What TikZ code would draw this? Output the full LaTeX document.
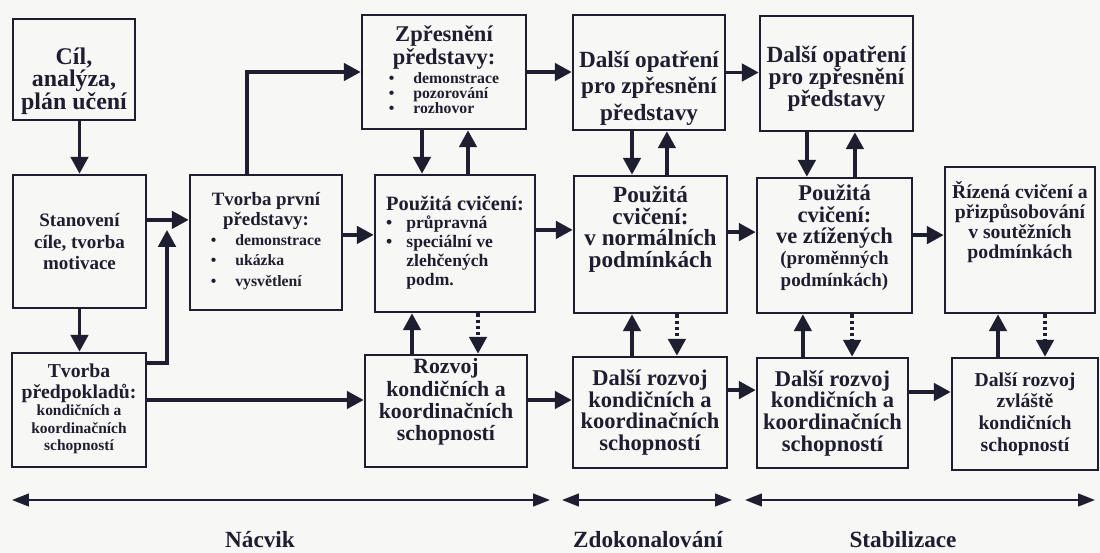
\documentclass[tikz,border=0pt]{standalone}
\usepackage{fontspec}
\setmainfont{Liberation Serif}
\usetikzlibrary{arrows.meta}

\definecolor{ink}{RGB}{30,30,48}
\definecolor{paper}{RGB}{247,247,245}
\newcommand{\fsz}[2]{\fontsize{#1}{#2}\selectfont}

\tikzset{
  box/.style={draw=ink, line width=1.9pt, inner sep=1pt, align=center, text=ink},
  arr/.style={draw=ink, line width=2.3pt, -{Triangle[length=12pt,width=12.5pt]}},
  darr/.style={arr, dash pattern=on 2.4pt off 2pt},
  phasearr/.style={draw=ink, line width=1.5pt, {Triangle[length=12pt,width=9pt]}-{Triangle[length=12pt,width=9pt]}},
  phase/.style={text=ink, font=\bfseries\fsz{16.5}{18}}
}

\begin{document}
\begin{tikzpicture}[x=0.025cm, y=-0.025cm]
\fill[paper] (0,0) rectangle (1100,553);
\useasboundingbox (0,0) rectangle (1100,553);

% first column
\node[box, minimum width=3.05cm, minimum height=2.525cm, text height=60pt, font=\bfseries\fsz{17}{15.8}] (goal) at (74,69.5) {Cíl,\\ analýza,\\ plán učení};
\node[box, minimum width=3.325cm, minimum height=3.325cm, font=\bfseries\fsz{13.5}{15}] (motiv) at (79.5,241.5) {Stanovení\\ cíle, tvorba\\ motivace};
\node[box, minimum width=3.35cm, minimum height=2.85cm, font=\bfseries\fsz{14}{14.5}] (prereq) at (79,410)
  {Tvorba\\ předpokladů:\\ {\fsz{11}{12.3}\begin{tabular}{@{}c@{}}kondičních a\\ koordinačních\\ schopností\end{tabular}}};

% Nacvik
\node[box, minimum width=3.8cm, minimum height=3.375cm, font=\bfseries\fsz{13.4}{14.2}] (firstimg) at (266,242.5)
  {Tvorba první\\ představy:\\ {\fsz{11.2}{14.6}\begin{tabular}{@{}l@{\hspace{1.2em}}l@{}}\textbullet & demonstrace\\ \textbullet & ukázka\\ \textbullet & vysvětlení\end{tabular}}};
\node[box, minimum width=4.1cm, minimum height=2.85cm, font=\bfseries\fsz{16}{16.6}] (refine) at (444,72)
  {Zpřesnění\\ představy:\\[1pt] {\fsz{11.2}{10.2}\begin{tabular}{@{}l@{\hspace{1.2em}}l@{}}\textbullet & demonstrace\\ \textbullet & pozorování\\ \textbullet & rozhovor\end{tabular}}};
\node[box, align=left, minimum width=4cm, minimum height=3.425cm, font=\bfseries\fsz{14.5}{16}] (drill) at (455,243.5)
  {Použitá cvičení:\\[2pt] {\fsz{12.5}{13.5}\begin{tabular}{@{}l@{\hspace{0.8em}}l@{}}\textbullet & průpravná\\ \textbullet & speciální ve\\ & zlehčených\\ & podm.\end{tabular}}};
\node[box, minimum width=4.05cm, minimum height=2.8cm, text depth=16pt, font=\bfseries\fsz{15.5}{15.9}] (develop) at (446,411) {Rozvoj\\ kondičních a\\ koordinačních\\ schopností};

% Zdokonalovani
\node[box, minimum width=3.8cm, minimum height=2.875cm, text height=72pt, font=\bfseries\fsz{16.5}{19}] (refine2) at (649,72.5) {Další opatření\\ pro zpřesnění\\ představy};
\node[box, minimum width=3.825cm, minimum height=3.425cm, text depth=25pt, font=\bfseries\fsz{16.5}{15.4}] (drillnorm) at (650.5,244.5) {Použitá\\ cvičení:\\ v normálních\\ podmínkách};
\node[box, minimum width=3.85cm, minimum height=2.775cm, font=\bfseries\fsz{16}{15.4}] (develop2) at (650,412.5) {Další rozvoj\\ kondičních a\\ koordinačních\\ schopností};

% Stabilizace
\node[box, minimum width=3.825cm, minimum height=2.875cm, text height=50pt, font=\bfseries\fsz{16.5}{15.6}] (refine3) at (836.5,73.5) {Další opatření\\ pro zpřesnění\\ představy};
\node[box, minimum width=3.875cm, minimum height=3.375cm, text depth=14pt, font=\bfseries\fsz{16}{15.2}] (drillhard) at (834.5,245.5)
  {Použitá\\ cvičení:\\ ve ztížených\\ {\fsz{13.5}{14}(proměnných}\\ {\fsz{13.5}{14}podmínkách)}};
\node[box, minimum width=3.775cm, minimum height=2.75cm, font=\bfseries\fsz{16}{15.4}] (develop3) at (832.5,413) {Další rozvoj\\ kondičních a\\ koordinačních\\ schopností};
\node[box, minimum width=3.75cm, minimum height=3.65cm, text depth=29pt, font=\bfseries\fsz{14}{14.2}] (compete) at (1020,240) {Řízená cvičení a\\ přizpůsobování\\ v soutěžních\\ podmínkách};
\node[box, minimum width=3.65cm, minimum height=2.8cm, font=\bfseries\fsz{14}{15.5}] (develop4) at (1025,414) {Další rozvoj\\ zvláště\\ kondičních\\ schopností};

% connectors, first column
\draw[arr] (motiv.north |- goal.south) -- (motiv.north);
\draw[arr] (motiv.south) -- (motiv.south |- prereq.north);
\draw[arr] ([yshift=0.54cm]motiv.east) -- ([yshift=0.54cm]motiv.east -| firstimg.west);
\coordinate (join) at (167,230);
\draw[arr] ([yshift=1.175cm]prereq.east) -| (join);
\draw[arr] ([yshift=0.25cm]prereq.east) -- ([yshift=0.25cm]prereq.east -| develop.west);
\draw[arr] ([xshift=-0.475cm]firstimg.north) |- (refine.west);
\draw[arr] ([yshift=0.19cm]firstimg.east) -- ([yshift=0.19cm]firstimg.east -| drill.west);

% rows to the right
\draw[arr] (refine.east) -- (refine.east -| refine2.west);
\draw[arr] (refine2.east) -- (refine2.east -| refine3.west);
\draw[arr] ([yshift=0.34cm]drill.east) -- ([yshift=0.34cm]drill.east -| drillnorm.west);
\draw[arr] ([yshift=0.31cm]drillnorm.east) -- ([yshift=0.31cm]drillnorm.east -| drillhard.west);
\draw[arr] ([yshift=0.26cm]drillhard.east) -- ([yshift=0.26cm]drillhard.east -| compete.west);
\draw[arr] ([yshift=0.275cm]develop.east) -- ([yshift=0.275cm]develop.east -| develop2.west);
\draw[arr] ([yshift=0.56cm]develop2.east) -- ([yshift=0.56cm]develop2.east -| develop3.west);
\draw[arr] ([yshift=0.525cm]develop3.east) -- ([yshift=0.525cm]develop3.east -| develop4.west);

% up and down between rows
\draw[arr] ([xshift=-0.55cm]refine.south) -- ([xshift=-0.55cm]refine.south |- drill.north);
\draw[arr] ([xshift=0.325cm]drill.north) -- ([xshift=0.325cm]drill.north |- refine.south);
\draw[arr] ([xshift=-0.425cm]refine2.south) -- ([xshift=-0.425cm]refine2.south |- drillnorm.north);
\draw[arr] ([xshift=0.41cm]drillnorm.north) -- ([xshift=0.41cm]drillnorm.north |- refine2.south);
\draw[arr] ([xshift=-0.74cm]refine3.south) -- ([xshift=-0.74cm]refine3.south |- drillhard.north);
\draw[arr] ([xshift=0.51cm]drillhard.north) -- ([xshift=0.51cm]drillhard.north |- refine3.south);

\draw[arr] ([xshift=-0.85cm]develop.north) -- ([xshift=-0.85cm]develop.north |- drill.south);
\draw[darr] ([xshift=0.575cm]drill.south) -- ([xshift=0.575cm]drill.south |- develop.north);
\draw[arr] ([xshift=-0.45cm]develop2.north) -- ([xshift=-0.45cm]develop2.north |- drillnorm.south);
\draw[darr] ([xshift=0.66cm]drillnorm.south) -- ([xshift=0.66cm]drillnorm.south |- develop2.north);
\draw[arr] ([xshift=-0.74cm]develop3.north) -- ([xshift=-0.74cm]develop3.north |- drillhard.south);
\draw[darr] ([xshift=0.44cm]drillhard.south) -- ([xshift=0.44cm]drillhard.south |- develop3.north);
\draw[arr] ([xshift=-0.675cm]develop4.north) -- ([xshift=-0.675cm]develop4.north |- compete.south);
\draw[darr] ([xshift=0.625cm]compete.south) -- ([xshift=0.625cm]compete.south |- develop4.north);

% phases
\coordinate (p1l) at (12,500); \coordinate (p1r) at (550,500);
\coordinate (p2l) at (562,500); \coordinate (p2r) at (732,500);
\coordinate (p3l) at (745,500); \coordinate (p3r) at (1095,500);
\draw[phasearr] (p1l) -- (p1r);
\draw[phasearr] (p2l) -- (p2r);
\draw[phasearr] (p3l) -- (p3r);
\node[phase] (nacvik) at (260,540) {Nácvik};
\node[phase] (zdokon) at (648,540) {Zdokonalování};
\node[phase] (stabil) at (903,540) {Stabilizace};
\end{tikzpicture}
\end{document}
